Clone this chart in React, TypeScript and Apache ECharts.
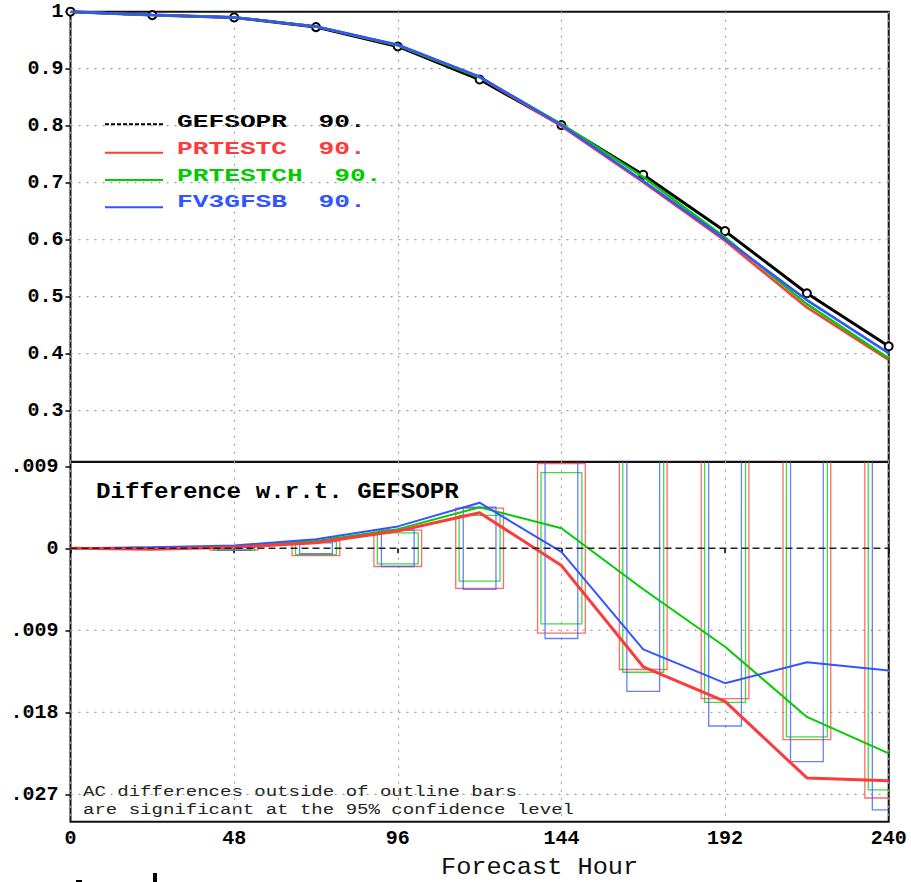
import React, { useEffect, useRef } from 'react';
import * as echarts from 'echarts';

// ---------- data ----------
const HOURS = [0, 24, 48, 72, 96, 120, 144, 168, 192, 216, 240];
const X_TICKS = [0, 48, 96, 144, 192, 240];

// anomaly correlation (top panel)
const AC_GEFSOPR = [1.0, 0.994, 0.990, 0.973, 0.939, 0.881, 0.801, 0.714, 0.615, 0.506, 0.413];
const AC_PRTESTC = [1.0, 0.994, 0.990, 0.974, 0.941, 0.885, 0.799, 0.701, 0.598, 0.481, 0.389];
const AC_PRTESTCH = [1.0, 0.994, 0.990, 0.974, 0.941, 0.885, 0.803, 0.710, 0.604, 0.487, 0.392];
const AC_FV3GFSB = [1.0, 0.994, 0.990, 0.974, 0.942, 0.886, 0.801, 0.703, 0.601, 0.494, 0.401];
const Y_TICKS_TOP = [0.3, 0.4, 0.5, 0.6, 0.7, 0.8, 0.9, 1];

// differences w.r.t. GEFSOPR (bottom panel)
const DIFF_GEFSOPR = [0, 0, 0, 0, 0, 0, 0, 0, 0, 0, 0];
const DIFF_PRTESTC = [0, -0.0001, 0.0001, 0.0006, 0.0019, 0.0039, -0.0019, -0.0130, -0.0168, -0.0252, -0.0255];
const DIFF_PRTESTCH = [0, 0, 0.0002, 0.0008, 0.0021, 0.0045, 0.0022, -0.0045, -0.0108, -0.0185, -0.0225];
const DIFF_FV3GFSB = [0, 0.0001, 0.0003, 0.0010, 0.0024, 0.0050, -0.0004, -0.0111, -0.0148, -0.0125, -0.0134];
const Y_TICKS_DIFF = [0.009, 0, -0.009, -0.018, -0.027];

// 95% significance half-ranges (outline bars)
const BOX_HOURS = [24, 48, 72, 96, 120, 144, 168, 192, 216, 240];
const CI_PRTESTC = [0.0001, 0.0002, 0.0008, 0.0020, 0.0044, 0.0093, 0.0133, 0.0165, 0.0210, 0.0274];
const CI_PRTESTCH = [0.0001, 0.0002, 0.0007, 0.0017, 0.0036, 0.0083, 0.0136, 0.0169, 0.0207, 0.0265];
const CI_FV3GFSB = [0.0001, 0.0002, 0.0006, 0.0020, 0.0045, 0.0099, 0.0157, 0.0195, 0.0234, 0.0287];

const LEGEND_NAMES = ['GEFSOPR', 'PRTESTC', 'PRTESTCH', 'FV3GFSB'];
const LEGEND_SCORES = ['90.', '90.', '90.', '90.'];

// ---------- styles ----------
const MONO = "'Liberation Mono', 'DejaVu Sans Mono', monospace";
const BLACK = '#000000';
const RED = '#ff3a3a';
const GREEN = '#00cc00';
const BLUE = '#3355ff';
const COLORS = [BLACK, RED, GREEN, BLUE];
const GRID_DOT = '#a0a0a0';

const pairs = (xs: number[], ys: number[]) => xs.map((x, i) => [x, ys[i]]);

function boxSeries(name: string, ci: number[], color: string, halfHours: number) {
  return {
    name,
    type: 'custom',
    xAxisIndex: 1,
    yAxisIndex: 1,
    clip: true,
    z: 2,
    silent: true,
    data: pairs(BOX_HOURS, ci),
    encode: { x: 0, y: 1 },
    renderItem: (params: any, api: any) => {
      const h = api.value(0);
      const c = api.value(1);
      const p1 = api.coord([h - halfHours, c]);
      const p2 = api.coord([h + halfHours, -c]);
      return {
        type: 'rect',
        shape: { x: p1[0], y: p1[1], width: p2[0] - p1[0], height: p2[1] - p1[1] },
        style: { fill: 'none', stroke: color, lineWidth: 1.3, opacity: 0.75 },
      };
    },
  };
}

// horizontal dotted grid lines at the tick values of a panel
function hGridSeries(name: string, axisIndex: number, vals: number[]) {
  return {
    name,
    type: 'custom',
    xAxisIndex: axisIndex,
    yAxisIndex: axisIndex,
    silent: true,
    z: 1,
    data: vals.map((v) => [0, v]),
    encode: { x: 0, y: 1 },
    renderItem: (params: any, api: any) => {
      const cs = params.coordSys;
      const p = api.coord([0, api.value(1)]);
      return {
        type: 'line',
        shape: { x1: cs.x, y1: p[1], x2: cs.x + cs.width, y2: p[1] },
        style: { stroke: GRID_DOT, lineWidth: 1.2, lineDash: [2, 6] },
      };
    },
  };
}

export default function App() {
  const ref = useRef<HTMLDivElement>(null);

  useEffect(() => {
    if (!ref.current) return;
    const chart = echarts.init(ref.current, undefined, { renderer: 'svg' });

    const labelStyle = { color: '#000', fontFamily: MONO, fontWeight: 'bold', fontSize: 20 };
    const tick = { show: true, length: 5, inside: false, lineStyle: { color: '#000', width: 1.5 } };
    const dotted = { show: true, lineStyle: { color: GRID_DOT, type: [2, 6], width: 1.2 } };

    const legendGraphics: any[] = [];
    const legendLineY = [124.3, 152.7, 180, 207.3];
    const legendTextY = [122.5, 149, 176, 202.5];
    LEGEND_NAMES.forEach((n, i) => {
      legendGraphics.push({
        type: 'line',
        shape: { x1: 105, y1: legendLineY[i], x2: 163, y2: legendLineY[i] },
        style: { stroke: COLORS[i], lineWidth: 2, lineDash: i === 0 ? [4, 2] : null },
        silent: true,
      });
      legendGraphics.push({
        type: 'text',
        x: 177,
        y: legendTextY[i],
        scaleX: 1.38,
        silent: true,
        style: {
          text: n + '  ' + LEGEND_SCORES[i],
          fill: COLORS[i],
          fontFamily: MONO,
          fontWeight: 'bold',
          fontSize: 19,
          align: 'left',
          verticalAlign: 'middle',
          textAlign: 'left',
          textVerticalAlign: 'middle',
        },
      });
    });

    const option: any = {
      animation: false,
      backgroundColor: '#ffffff',
      grid: [
        { left: 70.5, right: 22.3, top: 11.7, height: 450.3, show: true, borderColor: '#111', borderWidth: 2, backgroundColor: 'transparent' },
        { left: 70.5, right: 22.3, top: 461.7, height: 360, show: true, borderColor: '#111', borderWidth: 2, backgroundColor: 'transparent' },
      ],
      xAxis: [
        {
          type: 'value', gridIndex: 0, min: 0, max: 240, interval: 48,
          axisLine: { show: false }, axisTick: { show: false }, axisLabel: { show: false },
          splitLine: dotted,
        },
        {
          type: 'value', gridIndex: 1, min: 0, max: 240, interval: 48,
          axisLine: { show: false }, axisTick: tick,
          axisLabel: { ...labelStyle, margin: 7, customValues: X_TICKS },
          splitLine: dotted,
        },
      ],
      yAxis: [
        {
          type: 'value', gridIndex: 0, min: 0.21, max: 1,
          axisLine: { show: false },
          axisTick: { ...tick, customValues: Y_TICKS_TOP },
          axisLabel: {
            ...labelStyle, margin: 7, customValues: Y_TICKS_TOP,
            formatter: (v: number) => (Math.abs(v - 1) < 1e-9 ? '1' : v.toFixed(1)),
          },
          splitLine: { show: false },
        },
        {
          type: 'value', gridIndex: 1, min: -0.030, max: 0.0095,
          axisLine: { show: false },
          axisTick: { ...tick, customValues: Y_TICKS_DIFF },
          axisLabel: {
            ...labelStyle, margin: 12, customValues: Y_TICKS_DIFF,
            formatter: (v: number) => (Math.abs(v) < 1e-9 ? '0' : Math.abs(v).toFixed(3).replace(/^0/, '')),
          },
          splitLine: { show: false },
        },
      ],
      series: [
        hGridSeries('grid top', 0, Y_TICKS_TOP.filter((v) => v < 1)),
        hGridSeries('grid diff', 1, Y_TICKS_DIFF.filter((v) => v < 0)),
        // top panel
        {
          name: 'PRTESTC', type: 'line', xAxisIndex: 0, yAxisIndex: 0, data: pairs(HOURS, AC_PRTESTC),
          symbol: 'none', lineStyle: { color: RED, width: 2.5 }, itemStyle: { color: RED }, z: 3,
        },
        {
          name: 'PRTESTCH', type: 'line', xAxisIndex: 0, yAxisIndex: 0, data: pairs(HOURS, AC_PRTESTCH),
          symbol: 'none', lineStyle: { color: GREEN, width: 2.5 }, itemStyle: { color: GREEN }, z: 3,
        },
        {
          name: 'FV3GFSB', type: 'line', xAxisIndex: 0, yAxisIndex: 0, data: pairs(HOURS, AC_FV3GFSB),
          symbol: 'none', lineStyle: { color: BLUE, width: 2.5 }, itemStyle: { color: BLUE }, z: 3,
        },
        {
          name: 'GEFSOPR', type: 'line', xAxisIndex: 0, yAxisIndex: 0, data: pairs(HOURS, AC_GEFSOPR),
          symbol: 'emptyCircle', symbolSize: 8, lineStyle: { color: BLACK, width: 3 },
          itemStyle: { color: BLACK, borderColor: BLACK, borderWidth: 2 }, z: 2,
        },
        // bottom panel: significance outline bars
        boxSeries('PRTESTC bars', CI_PRTESTC, RED, 7),
        boxSeries('PRTESTCH bars', CI_PRTESTCH, GREEN, 6),
        boxSeries('FV3GFSB bars', CI_FV3GFSB, BLUE, 4.8),
        // bottom panel: differences
        {
          name: 'PRTESTCH diff', type: 'line', xAxisIndex: 1, yAxisIndex: 1, data: pairs(HOURS, DIFF_PRTESTCH),
          symbol: 'none', lineStyle: { color: GREEN, width: 2 }, z: 4,
        },
        {
          name: 'FV3GFSB diff', type: 'line', xAxisIndex: 1, yAxisIndex: 1, data: pairs(HOURS, DIFF_FV3GFSB),
          symbol: 'none', lineStyle: { color: BLUE, width: 2 }, z: 4,
        },
        {
          name: 'PRTESTC diff', type: 'line', xAxisIndex: 1, yAxisIndex: 1, data: pairs(HOURS, DIFF_PRTESTC),
          symbol: 'none', lineStyle: { color: RED, width: 3 }, z: 4,
        },
        {
          name: 'GEFSOPR diff', type: 'line', xAxisIndex: 1, yAxisIndex: 1, data: pairs(HOURS, DIFF_GEFSOPR),
          symbol: 'none', lineStyle: { color: '#222', width: 1.5, type: [7, 4] }, z: 5,
        },
      ],
      graphic: [
        ...legendGraphics,
        {
          type: 'text', x: 96, y: 492.5, scaleX: 1.1, silent: true,
          style: {
            text: 'Difference w.r.t. GEFSOPR', fill: '#000', fontFamily: MONO, fontWeight: 'bold', fontSize: 22,
            align: 'left', verticalAlign: 'middle', textAlign: 'left', textVerticalAlign: 'middle',
          },
        },
        {
          type: 'text', x: 83, y: 792.5, scaleX: 1.27, silent: true,
          style: {
            text: 'AC differences outside of outline bars', fill: '#222', fontFamily: MONO, fontSize: 15,
            align: 'left', verticalAlign: 'middle', textAlign: 'left', textVerticalAlign: 'middle',
          },
        },
        {
          type: 'text', x: 83, y: 810, scaleX: 1.27, silent: true,
          style: {
            text: 'are significant at the 95% confidence level', fill: '#222', fontFamily: MONO, fontSize: 15,
            align: 'left', verticalAlign: 'middle', textAlign: 'left', textVerticalAlign: 'middle',
          },
        },
        {
          type: 'text', x: 441, y: 879, scaleX: 1.1, silent: true,
          style: {
            text: 'Forecast Hour', fill: '#111', fontFamily: MONO, fontSize: 23,
            align: 'left', verticalAlign: 'bottom', textAlign: 'left', textVerticalAlign: 'bottom',
          },
        },
        { type: 'rect', shape: { x: 76, y: 880, width: 6, height: 2 }, style: { fill: '#000' }, silent: true },
        { type: 'rect', shape: { x: 153, y: 873, width: 4, height: 9 }, style: { fill: '#000' }, silent: true },
      ],
    };

    chart.setOption(option);
    return () => chart.dispose();
  }, []);

  return (
    <div
      ref={ref}
      style={{ position: 'fixed', left: 0, top: 0, width: 911, height: 882, background: '#fff' }}
    />
  );
}
